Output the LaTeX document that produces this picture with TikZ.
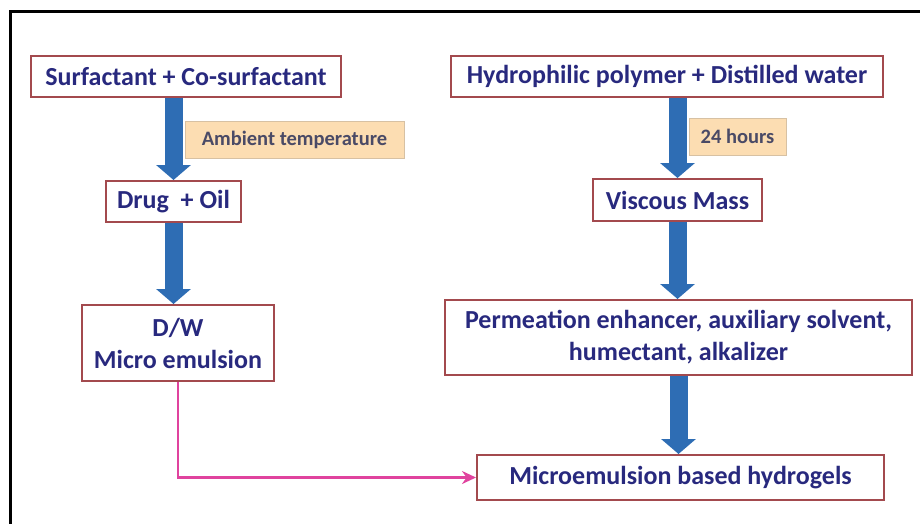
\documentclass[tikz,border=0pt]{standalone}
\usepackage{fontspec}
\setmainfont{Carlito}
\usetikzlibrary{positioning, arrows.meta}

\definecolor{boxred}{HTML}{A34A4E}
\definecolor{inkblue}{HTML}{28297E}
\definecolor{flowblue}{HTML}{2E6DB4}
\definecolor{tagfill}{HTML}{FCDDB2}
\definecolor{taggray}{HTML}{4A4A66}
\definecolor{linkpink}{HTML}{E0439E}

\begin{document}
\begin{tikzpicture}[
        x=1pt, y=-1pt,
        stage/.style={rectangle, draw=boxred, line width=2pt, fill=white, text=inkblue,
            font=\fontsize{26}{32}\selectfont\bfseries, align=center, inner sep=0pt},
        tag/.style={rectangle, draw=tagfill!70!gray, fill=tagfill, text=taggray,
            font=\fontsize{20.5}{24}\selectfont\bfseries, inner sep=0pt},
        flow/.style={-{Triangle[width=34pt, length=15pt]}, line width=18pt, draw=flowblue},
        link/.style={-{Stealth[length=14pt, width=13pt]}, line width=2.8pt, draw=linkpink}
    ]
        \useasboundingbox (0,0) rectangle (920,524);
        % outer frame (only top and left edge are in view)
        \draw[line width=3pt] (10,524) -- (10,12) -- (920,12);

        % left column
        \node[stage, minimum width=310pt, minimum height=41pt] (surf) at (186,76.5) {Surfactant + Co-surfactant};
        \node[stage, minimum width=135pt, minimum height=41pt] (drug) at (173.5,201.5) {Drug~ + Oil};
        \node[stage, minimum width=192pt, minimum height=76pt] (dw) at (178,343) {D/W\\Micro emulsion};

        % right column
        \node[stage, minimum width=432pt, minimum height=41pt] (poly) at (667,76.5) {Hydrophilic polymer + Distilled water};
        \node[stage, minimum width=169pt, minimum height=42pt] (mass) at (677.5,200) {Viscous Mass};
        \node[stage, minimum width=467pt, minimum height=75pt] (perm) at (678.5,337.5) {Permeation enhancer, auxiliary solvent,\\humectant, alkalizer};
        \node[stage, minimum width=407pt, minimum height=45pt] (gel) at (680.5,477.5) {Microemulsion based hydrogels};

        % conditions
        \node[tag, minimum width=219pt, minimum height=37pt] (ambient) at (294.5,139.5) {Ambient temperature};
        \node[tag, minimum width=97pt, minimum height=37pt] (hours) at (737.5,136.5) {24 hours};

        \draw[flow] (surf.south -| drug.north) -- (drug.north);
        \draw[flow] (drug.south) -- (drug.south |- dw.north);
        \draw[flow] (poly.south -| mass.north) -- (mass.north);
        \draw[flow] (mass.south) -- (mass.south |- perm.north);
        \draw[flow] (perm.south) -- (perm.south |- gel.north);
        \draw[link] (dw.south) |- (gel.west);
    \end{tikzpicture}
\end{document}
